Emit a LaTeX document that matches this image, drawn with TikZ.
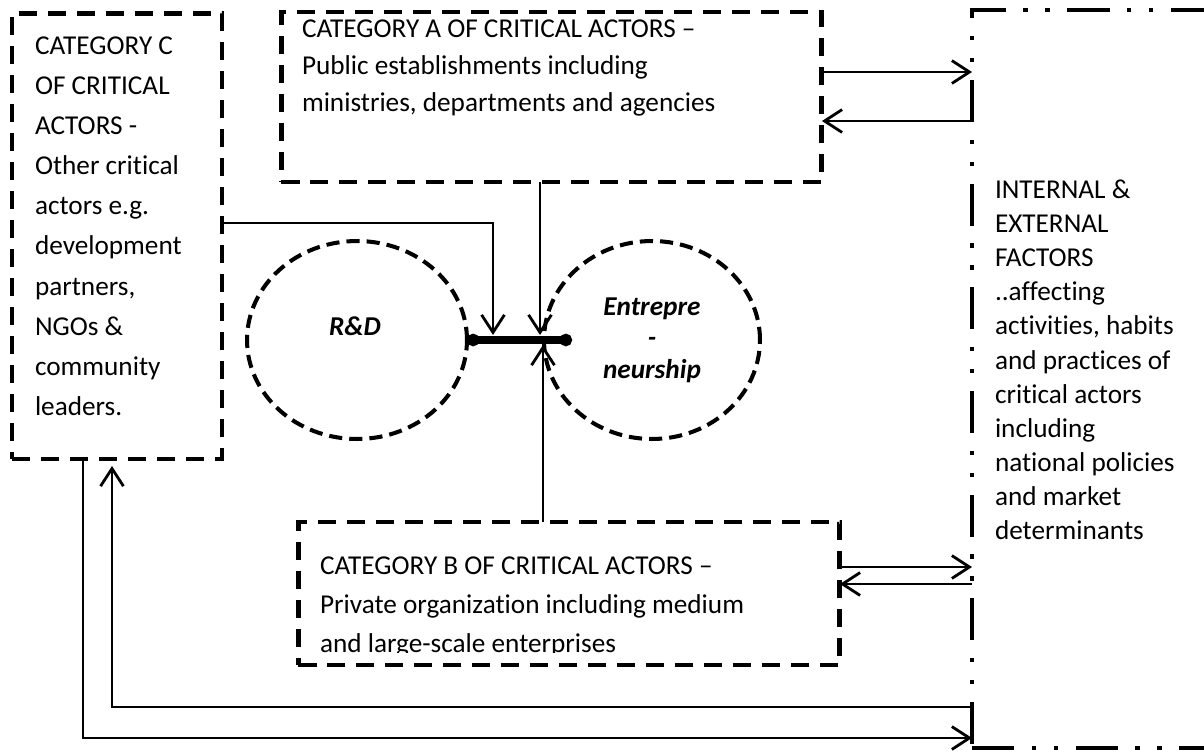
\documentclass[tikz,border=0pt]{standalone}
\usepackage{fontspec}
\setmainfont{Carlito}[Ligatures=NoCommon]
\usetikzlibrary{arrows.meta,shapes.geometric}

\begin{document}
\begin{tikzpicture}[x=0.02cm,y=-0.02cm]
\tikzstyle{every node}+=[inner sep=0pt, outer sep=0pt]
\tikzset{
  actorbox/.style={draw=black, line width=2.8pt, dash pattern=on 10.5pt off 6pt},
  factorbox/.style={draw=black, line width=2.3pt, dash pattern=on 24pt off 10pt on 2.5pt off 10pt on 2.5pt off 10pt},
  pole/.style={draw=black, ellipse, line width=2.3pt, dash pattern=on 7.5pt off 4pt},
  boxtext/.style={anchor=north west, align=left, font=\fontsize{15.5}{#1}\selectfont},
  poletext/.style={align=center, font=\fontsize{15.5}{18}\selectfont\bfseries\itshape},
  link/.style={draw=black, line width=1.6pt, -{Straight Barb[length=10pt,width=13pt]}}
}
\useasboundingbox (0,0) rectangle (1204,751);
\clip (0,0) rectangle (1204,751);
\node [actorbox, minimum width=4.2cm, minimum height=8.92cm] (catC) at (117,236) {};
\node [actorbox, minimum width=10.82cm, minimum height=3.4cm] (catA) at (551.5,97) {};
\node [actorbox, minimum width=10.84cm, minimum height=2.86cm] (catB) at (569,593.5) {};
\node [factorbox, minimum width=5.4cm, minimum height=14.76cm] (factors) at (1107,379) {};
\node [pole, minimum width=4.4cm, minimum height=3.96cm] (rnd) at (357,340) {};
\node [pole, minimum width=4.32cm, minimum height=3.96cm] (entre) at (652,340) {};
\node [boxtext=22.8] (catCtext) at (35,37) {CATEGORY C\\OF CRITICAL\\ACTORS -\\Other critical\\actors e.g.\\development\\partners,\\NGOs \&\\community\\leaders.};
\node [boxtext=21] (catAtext) at (302,20) {CATEGORY A OF CRITICAL ACTORS –\\Public establishments including\\ministries, departments and agencies};
\begin{scope}
\clip (catB.north west) rectangle (catB.east |- 0,652);
\node [boxtext=22.2] (catBtext) at (320,557) {CATEGORY B OF CRITICAL ACTORS –\\Private organization including medium\\and large-scale enterprises};
\end{scope}
\node [boxtext=19.4] (factorstext) at (995,180) {INTERNAL \&\\EXTERNAL\\FACTORS\\..affecting\\activities, habits\\and practices of\\critical actors\\including\\national policies\\and market\\determinants};
\node [poletext] (rndtext) at (355,326) {R\&D};
\node [poletext] (entretext) at (652,340) {Entrepre\\-\\neurship};
\coordinate (barend) at (572,340);
\draw [black, line width=4.5pt, {Circle[length=7pt]}-{Circle[length=7pt]}] (rnd.east) -- (barend);
\coordinate (barC) at (493,335);
\coordinate (barA) at (540,335);
\coordinate (barB) at (543,345);
\draw [link] (catC.east |- 0,223) -| (barC);
\draw [link] (catA.south -| barA) -- (barA);
\draw [link] (catB.north -| barB) -- (barB);
\draw [link] (catA.east |- 0,72) -- (factors.west |- 0,72);
\draw [link] (factors.west |- 0,121) -- (catA.east |- 0,121);
\draw [link] (catB.east |- 0,567) -- (factors.west |- 0,567);
\draw [link] (factors.west |- 0,584) -- (catB.east |- 0,584);
\draw [link, shorten >=4pt] (factors.west |- 0,707) -| (catC.south -| 112,0);
\draw [link] (catC.south -| 83,0) |- (factors.west |- 0,738);
\end{tikzpicture}
\end{document}
